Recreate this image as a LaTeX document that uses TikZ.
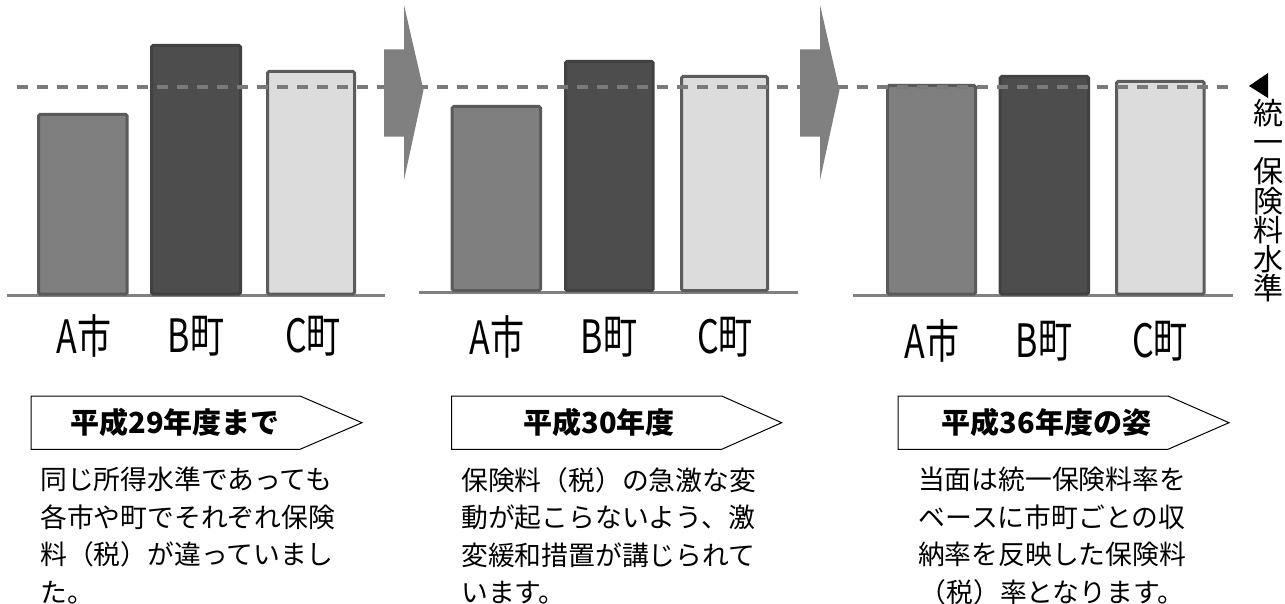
\documentclass[tikz,border=0pt]{standalone}
\usepackage{fontspec}
\newfontfamily\jp{Noto Sans CJK JP}
\usetikzlibrary{calc}
\definecolor{barA}{HTML}{7F7F7F}
\definecolor{barB}{HTML}{4D4D4D}
\definecolor{barC}{HTML}{DCDCDC}
\definecolor{edgeA}{HTML}{5A5A5A}
\definecolor{edgeB}{HTML}{424242}
\definecolor{edgeC}{HTML}{5C5C5C}
\definecolor{linegray}{HTML}{7A7A7A}
\definecolor{arrowgray}{HTML}{808080}
\tikzset{
  barAst/.style={fill=barA,draw=edgeA,line width=3pt,rounded corners=1.5pt},
  barBst/.style={fill=barB,draw=edgeB,line width=3pt,rounded corners=1.5pt},
  barCst/.style={fill=barC,draw=edgeC,line width=3pt,rounded corners=1.5pt},
  baseln/.style={draw=arrowgray,line width=3pt},
  levelln/.style={draw=linegray,line width=4pt,dash pattern=on 11pt off 9pt},
  bigarrow/.style={fill=arrowgray,draw=none},
  lab/.style={inner sep=0pt,font=\jp\fontsize{46}{46}\selectfont},
  tagbox/.style={draw=black,line width=1pt,fill=white},
  tagtext/.style={inner sep=0pt,font=\jp\bfseries\fontsize{29}{29}\selectfont},
  body/.style={inner sep=0pt,align=left,anchor=north west,font=\jp\fontsize{26.8}{37.5}\selectfont},
}
\begin{document}
\begin{tikzpicture}[x=1pt,y=-1pt]
\useasboundingbox (0,0) rectangle (1285,604);
% ---------- panel 1 ----------
\draw[baseln] (7,295.7) -- (385,295.7);
\draw[barAst] (38.5,294) rectangle (127.2,114.5);
\draw[barBst] (151.5,294) rectangle (240.5,45.5);
\draw[barCst] (267.5,294) rectangle (354.5,71.5);
% ---------- panel 2 ----------
\draw[baseln] (419,292.3) -- (798,292.3);
\draw[barAst] (452.2,290.5) rectangle (540.5,106.5);
\draw[barBst] (565.5,290.5) rectangle (653.2,61.5);
\draw[barCst] (681.5,290.5) rectangle (767.5,76.5);
% ---------- panel 3 ----------
\draw[baseln] (853,295.7) -- (1233,295.7);
\draw[barAst] (887.5,294) rectangle (975.5,85.5);
\draw[barBst] (1000.2,294) rectangle (1088.5,76.5);
\draw[barCst] (1116.5,294) rectangle (1204.2,81.5);
% ---------- level line ----------
\coordinate (lvstart) at (17,87);
\coordinate (lvend) at (1236,87);
\draw[levelln] (lvstart) -- (lvend);
% ---------- big arrows ----------
\fill[bigarrow] (384,49.3) -- (404,49.3) -- (404,5) -- (423.5,90) -- (404,180) -- (404,136.7) -- (384,136.7) -- cycle;
\fill[bigarrow] (800,49.3) -- (820,49.3) -- (820,5) -- (839.5,90) -- (820,180) -- (820,136.7) -- (800,136.7) -- cycle;
% ---------- right vertical label ----------
\fill[black] (1249,86) -- (1268,73) -- (1268,98) -- cycle;
\node[inner sep=0pt,anchor=north,align=center,font=\jp\fontsize{30}{29.2}\selectfont] (vlabel) at (1268,99)
  {統\\一\\保\\険\\料\\水\\準};
% ---------- bar labels ----------
\node[lab] (p1a) at (84,336) {\scalebox{0.74}[1]{A市}};
\node[lab] (p1b) at (196,336) {\scalebox{0.74}[1]{B町}};
\node[lab] (p1c) at (313,336) {\scalebox{0.74}[1]{C町}};
\node[lab] (p2a) at (497,337) {\scalebox{0.74}[1]{A市}};
\node[lab] (p2b) at (609,337) {\scalebox{0.74}[1]{B町}};
\node[lab] (p2c) at (725,337) {\scalebox{0.74}[1]{C町}};
\node[lab] (p3a) at (932,341) {\scalebox{0.74}[1]{A市}};
\node[lab] (p3b) at (1044,341) {\scalebox{0.74}[1]{B町}};
\node[lab] (p3c) at (1160,341) {\scalebox{0.74}[1]{C町}};
% ---------- tags ----------
\draw[tagbox] (31,396) -- (300,396) -- (362,422.7) -- (300,449.3) -- (31,449.3) -- cycle;
\node[tagtext] (t1) at (175,422.7) {平成29年度まで};
\draw[tagbox] (451.7,396) -- (721.7,396) -- (781.7,422.7) -- (721.7,449.3) -- (451.7,449.3) -- cycle;
\node[tagtext] (t2) at (599,422.7) {平成30年度};
\draw[tagbox] (898,396) -- (1168,396) -- (1229,422.7) -- (1168,449.3) -- (898,449.3) -- cycle;
\node[tagtext] (t3) at (1046.5,422.7) {平成36年度の姿};
% ---------- body text ----------
\node[body] (b1) at (40,467) {同じ所得水準であっても\\各市や町でそれぞれ保険\\料（税）が違っていまし\\た。};
\node[body] (b2) at (461,467) {保険料（税）の急激な変\\動が起こらないよう、激\\変緩和措置が講じられて\\います。};
\node[body,align=center,anchor=north] (b3) at (1052,467) {当面は統一保険料率を\\ベースに市町ごとの収\\納率を反映した保険料\\（税）率となります。};
\end{tikzpicture}
\end{document}
